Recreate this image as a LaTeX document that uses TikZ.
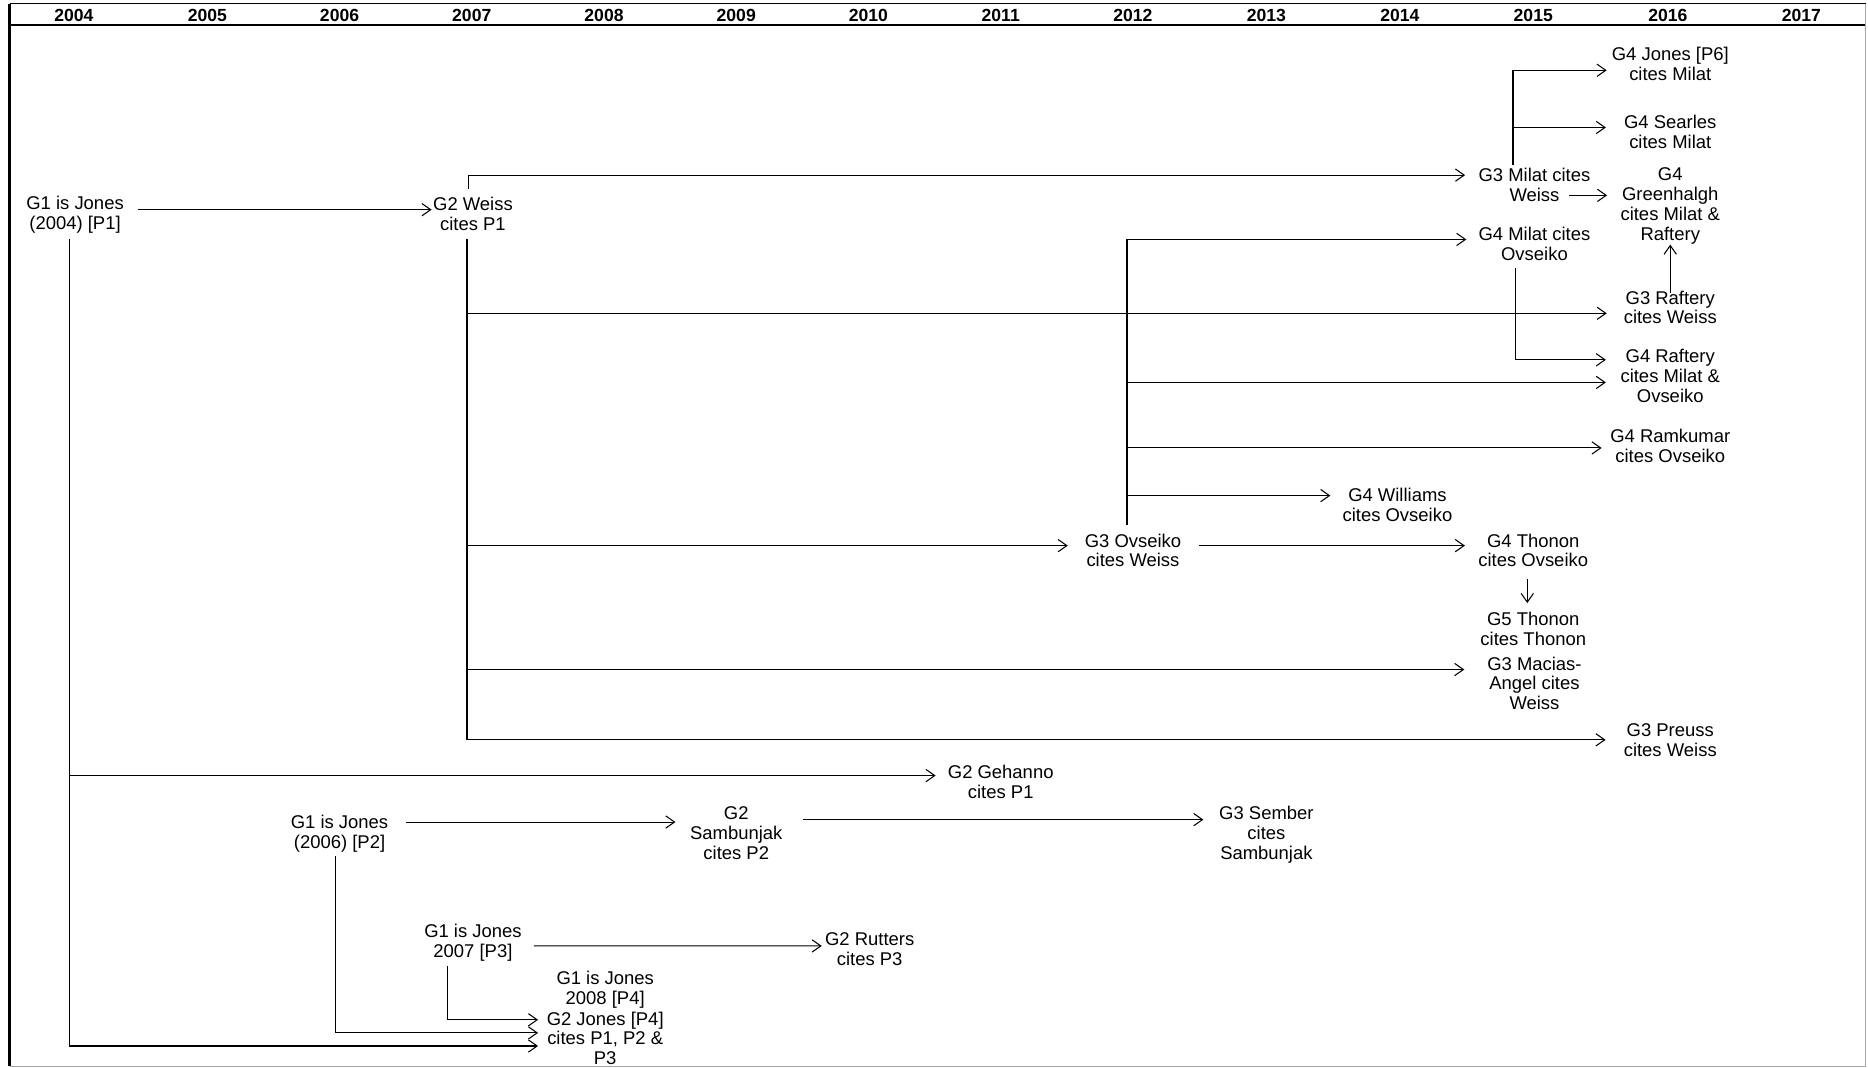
\documentclass[tikz,border=0pt]{standalone}
\usepackage{fontspec}
\setmainfont{Liberation Sans}
\usetikzlibrary{arrows.meta}
\newcommand{\cittop}{\rule{0pt}{11pt}}
\newcommand{\citbot}{\rule[-1.4pt]{0pt}{1.4pt}}
\tikzset{
paper/.style = {align=center, inner sep=0pt, font=\fontsize{10.5}{11.3}\selectfont, execute at begin node=\cittop, execute at end node=\citbot},
year/.style  = {inner sep=0pt, font=\fontsize{10}{12}\selectfont\bfseries},
cite/.style  = {->, line width=0.6pt},
frame/.style = {line width=0.8pt}
}
\begin{document}
\begin{tikzpicture}[x=0.023827cm, y=-0.023827cm, >={Straight Barb[length=5pt,width=7pt]}]
  \useasboundingbox (0,0) rectangle (1568,896);
  \draw [frame] (8,3) -- (1566,3);
  \draw [frame] (8,21) -- (1566,21);
  \draw [line width=1.6pt] (8,3) -- (8,895);
  \draw [frame, black!35] (1566,3) -- (1566,895) -- (8,895);

  \node [year] (y2004) at (62,13)   {2004};
  \node [year] (y2005) at (174,13)  {2005};
  \node [year] (y2006) at (285,13)  {2006};
  \node [year] (y2007) at (396,13)  {2007};
  \node [year] (y2008) at (507,13)  {2008};
  \node [year] (y2009) at (618,13)  {2009};
  \node [year] (y2010) at (729,13)  {2010};
  \node [year] (y2011) at (840,13)  {2011};
  \node [year] (y2012) at (951,13)  {2012};
  \node [year] (y2013) at (1063,13) {2013};
  \node [year] (y2014) at (1175,13) {2014};
  \node [year] (y2015) at (1287,13) {2015};
  \node [year] (y2016) at (1400,13) {2016};
  \node [year] (y2017) at (1512,13) {2017};

  \node [paper] (jones04)    at (63,180.5)   {G1 is Jones\\(2004) [P1]};
  \node [paper] (weiss)      at (397,180.5)  {G2 Weiss\\cites P1};
  \node [paper] (milat)      at (1288,156)   {G3 Milat cites\\Weiss};
  \node [paper] (jonesp6)    at (1402,54.5)  {G4 Jones [P6]\\cites Milat};
  \node [paper] (searles)    at (1402,111.5) {G4 Searles\\cites Milat};
  \node [paper] (greenhalgh) at (1402,173)   {G4\\Greenhalgh\\cites Milat \&\\Raftery};
  \node [paper] (milatovs)   at (1288,206)   {G4 Milat cites\\Ovseiko};
  \node [paper] (raftery3)   at (1402,259)   {G3 Raftery\\cites Weiss};
  \node [paper] (raftery4)   at (1402,316.5) {G4 Raftery\\cites Milat \&\\Ovseiko};
  \node [paper] (ramkumar)   at (1402,375)   {G4 Ramkumar\\cites Ovseiko};
  \node [paper] (williams)   at (1173,425)   {G4 Williams\\cites Ovseiko};
  \node [paper] (ovseiko)    at (951,463)    {G3 Ovseiko\\cites Weiss};
  \node [paper] (thonon4)    at (1287,463)   {G4 Thonon\\cites Ovseiko};
  \node [paper] (thonon5)    at (1287,528.5) {G5 Thonon\\cites Thonon};
  \node [paper] (macias)     at (1288,574.5) {G3 Macias-\\Angel cites\\Weiss};
  \node [paper] (preuss)     at (1402,622.5) {G3 Preuss\\cites Weiss};
  \node [paper] (gehanno)    at (840,657)    {G2 Gehanno\\cites P1};
  \node [paper] (jones06)    at (285,699.5)  {G1 is Jones\\(2006) [P2]};
  \node [paper] (sambunjak)  at (618,700.5)  {G2\\Sambunjak\\cites P2};
  \node [paper] (sember)     at (1063,700.5) {G3 Sember\\cites\\Sambunjak};
  \node [paper] (jones07)    at (397,791.5)  {G1 is Jones\\2007 [P3]};
  \node [paper] (rutters)    at (730,798)    {G2 Rutters\\cites P3};
  \node [paper] (jones08)    at (508,830.5)  {G1 is Jones\\2008 [P4]};
  \node [paper] (jonesp4)    at (508,872.5)  {G2 Jones [P4]\\cites P1, P2 \&\\P3};

  \coordinate (j04trunk) at ([shift={(-5,4.5)}]jones04.south);
  \coordinate (wtrunk)   at ([shift={(-5,4.5)}]weiss.south);
  \coordinate (mtrunk)   at ([shift={(-18,-2)}]milat.north);
  \coordinate (otrunk)   at ([shift={(-5,-7)}]ovseiko.north);

  \draw [cite] ([shift={(12,-4.5)}]jones04.east) -- ([shift={(-1,-4.5)}]weiss.west);
  \draw [cite] ([shift={(-4,-7)}]weiss.north) |- ([shift={(-11,-9)}]milat.west);
  \draw [cite] (mtrunk) |- ([shift={(-4,4.5)}]jonesp6.west);
  \draw [cite] ([shift={(0,-4.5)}]mtrunk |- searles.west) -- ([shift={(-15,-4.5)}]searles.west);
  \draw [cite] ([shift={(-18,8)}]milat.east) -- ([shift={(-11,-9)}]greenhalgh.west);
  \draw [cite] ([shift={(0,2)}]raftery3.north) -- (greenhalgh.south);
  \draw [cite] ([shift={(-16,4)}]milatovs.south) |- ([shift={(-12,-14.5)}]raftery4.west);

  \draw [cite] (otrunk) |- ([shift={(-10,-5)}]milatovs.west);
  \draw [cite] ([shift={(0,4.5)}]otrunk |- raftery4.west) -- ([shift={(-12,4.5)}]raftery4.west);
  \draw [cite] ([shift={(0,1)}]otrunk |- ramkumar.west) -- ([shift={(-7,1)}]ramkumar.west);
  \draw [cite] ([shift={(0,-9)}]otrunk |- williams.west) -- ([shift={(-10,-9)}]williams.west);
  \draw [cite] ([shift={(15,-5)}]ovseiko.east) -- ([shift={(-11,-5)}]thonon4.west);
  \draw [cite] ([shift={(-5,8)}]thonon4.south) -- ([shift={(-5,-7)}]thonon5.north);

  \draw [cite] (wtrunk) |- ([shift={(-15,-1.5)}]preuss.west);
  \draw [cite] ([shift={(0,4)}]wtrunk |- raftery3.west) -- ([shift={(-14,4)}]raftery3.west);
  \draw [cite] ([shift={(0,-5)}]wtrunk |- ovseiko.west) -- ([shift={(-14,-5)}]ovseiko.west);
  \draw [cite] ([shift={(0,-12.5)}]wtrunk |- macias.west) -- ([shift={(-19,-12.5)}]macias.west);

  \draw [cite] (j04trunk) |- ([shift={(-7,5.5)}]jonesp4.west);
  \draw [cite] ([shift={(0,-6)}]j04trunk |- gehanno.west) -- ([shift={(-10,-6)}]gehanno.west);
  \draw [cite] ([shift={(15,-9.5)}]jones06.east) -- ([shift={(-12,-10.5)}]sambunjak.west);
  \draw [cite] ([shift={(17,-12.5)}]sambunjak.east) -- ([shift={(-13,-12.5)}]sember.west);
  \draw [cite] ([shift={(-3,3.5)}]jones06.south) |- ([shift={(-7,-5.5)}]jonesp4.west);
  \draw [cite] ([shift={(10,2.5)}]jones07.east) -- ([shift={(-2.5,-4)}]rutters.west);
  \draw [cite] ([shift={(-21,3.5)}]jones07.south) |- ([shift={(-7,-16.5)}]jonesp4.west);
\end{tikzpicture}
\end{document}
